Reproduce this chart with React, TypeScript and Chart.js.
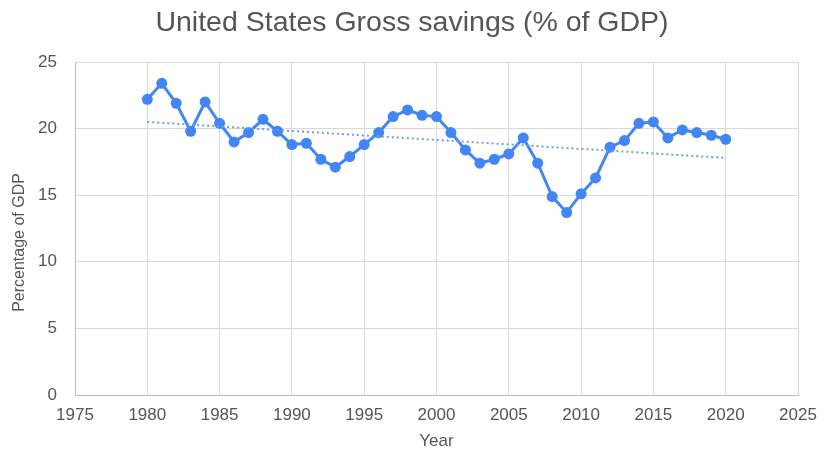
import React, { useEffect, useRef } from "react";
import { Chart, registerables } from "chart.js";

Chart.register(...registerables);

const years = [
  1980, 1981, 1982, 1983, 1984, 1985, 1986, 1987, 1988, 1989,
  1990, 1991, 1992, 1993, 1994, 1995, 1996, 1997, 1998, 1999,
  2000, 2001, 2002, 2003, 2004, 2005, 2006, 2007, 2008, 2009,
  2010, 2011, 2012, 2013, 2014, 2015, 2016, 2017, 2018, 2019, 2020,
];
const savings = [
  22.2, 23.4, 21.9, 19.8, 22.0, 20.4, 19.0, 19.7, 20.7, 19.8,
  18.8, 18.9, 17.7, 17.1, 17.9, 18.8, 19.7, 20.9, 21.4, 21.0,
  20.9, 19.7, 18.4, 17.4, 17.7, 18.1, 19.3, 17.4, 14.9, 13.7,
  15.1, 16.3, 18.6, 19.1, 20.4, 20.5, 19.3, 19.9, 19.7, 19.5, 19.2,
];
const trendYears = [1980, 2020];
const trendValues = [20.5, 17.8];
const xTicks = [1975, 1980, 1985, 1990, 1995, 2000, 2005, 2010, 2015, 2020, 2025];
const yTicks = [0, 5, 10, 15, 20, 25];
const titleText = "United States Gross savings (% of GDP)";
const xTitle = "Year";
const yTitle = "Percentage of GDP";

const FONT = "'Liberation Sans', Arial, sans-serif";

const textsPlugin = {
  id: "texts",
  afterDraw(chart: any) {
    const ctx = chart.ctx;
    const a = chart.chartArea;
    ctx.save();
    ctx.fillStyle = "#555555";
    ctx.textAlign = "center";
    ctx.textBaseline = "middle";
    ctx.font = `28.5px ${FONT}`;
    ctx.fillText(titleText, chart.width / 2, 23);
    ctx.font = `17px ${FONT}`;
    ctx.fillText(xTitle, (a.left + a.right) / 2, 441);
    ctx.translate(20, (a.top + a.bottom) / 2 + 14);
    ctx.rotate(-Math.PI / 2);
    ctx.font = `16px ${FONT}`;
    ctx.fillText(yTitle, 0, 0);
    ctx.restore();
  },
};

export default function App() {
  const ref = useRef<HTMLCanvasElement | null>(null);
  useEffect(() => {
    if (!ref.current) return;
    const chart = new Chart(ref.current, {
      type: "line",
      data: {
        datasets: [
          {
            label: "Trend",
            data: trendYears.map((x, i) => ({ x, y: trendValues[i] })),
            borderColor: "#6b9ff0",
            borderWidth: 2,
            borderDash: [2, 3],
            pointRadius: 0,
            fill: false,
          },
          {
            label: "Gross savings",
            data: years.map((x, i) => ({ x, y: savings[i] })),
            borderColor: "#4285F4",
            backgroundColor: "#4285F4",
            borderWidth: 3,
            pointRadius: 5.5,
            pointBorderWidth: 0,
            pointBackgroundColor: "#4285F4",
            fill: false,
          },
        ],
      },
      options: {
        animation: false,
        responsive: false,
        layout: { padding: { left: 0, right: 26, top: 62, bottom: 0 } },
        plugins: {
          legend: { display: false },
          tooltip: { enabled: false },
          title: { display: false },
        },
        scales: {
          x: {
            type: "linear",
            min: 1975,
            max: 2025,
            afterBuildTicks: (s: any) => {
              s.ticks = xTicks.map((v) => ({ value: v }));
            },
            afterFit: (s: any) => {
              s.height = 59;
              s.paddingLeft = 0;
              s.paddingRight = 0;
            },
            ticks: {
              color: "#555555",
              font: { family: FONT, size: 17 },
              padding: 10,
              maxRotation: 0,
              callback: (v: any) => String(v),
            },
            grid: { color: "#d9d9d9", lineWidth: 1, drawTicks: false },
            border: { color: "#bdbdbd" },
          },
          y: {
            type: "linear",
            min: 0,
            max: 25,
            afterBuildTicks: (s: any) => {
              s.ticks = yTicks.map((v) => ({ value: v }));
            },
            afterFit: (s: any) => {
              s.width = 75;
              s.paddingTop = 0;
              s.paddingBottom = 0;
            },
            ticks: {
              color: "#555555",
              font: { family: FONT, size: 17 },
              padding: 18,
            },
            grid: { color: "#d9d9d9", lineWidth: 1, drawTicks: false },
            border: { color: "#bdbdbd" },
          },
        },
      },
      plugins: [textsPlugin],
    } as any);
    return () => chart.destroy();
  }, []);
  return (
    <div style={{ position: "absolute", left: 0, top: 0, width: 824, height: 454, background: "#fff" }}>
      <canvas ref={ref} width={824} height={454} style={{ display: "block" }} />
    </div>
  );
}
